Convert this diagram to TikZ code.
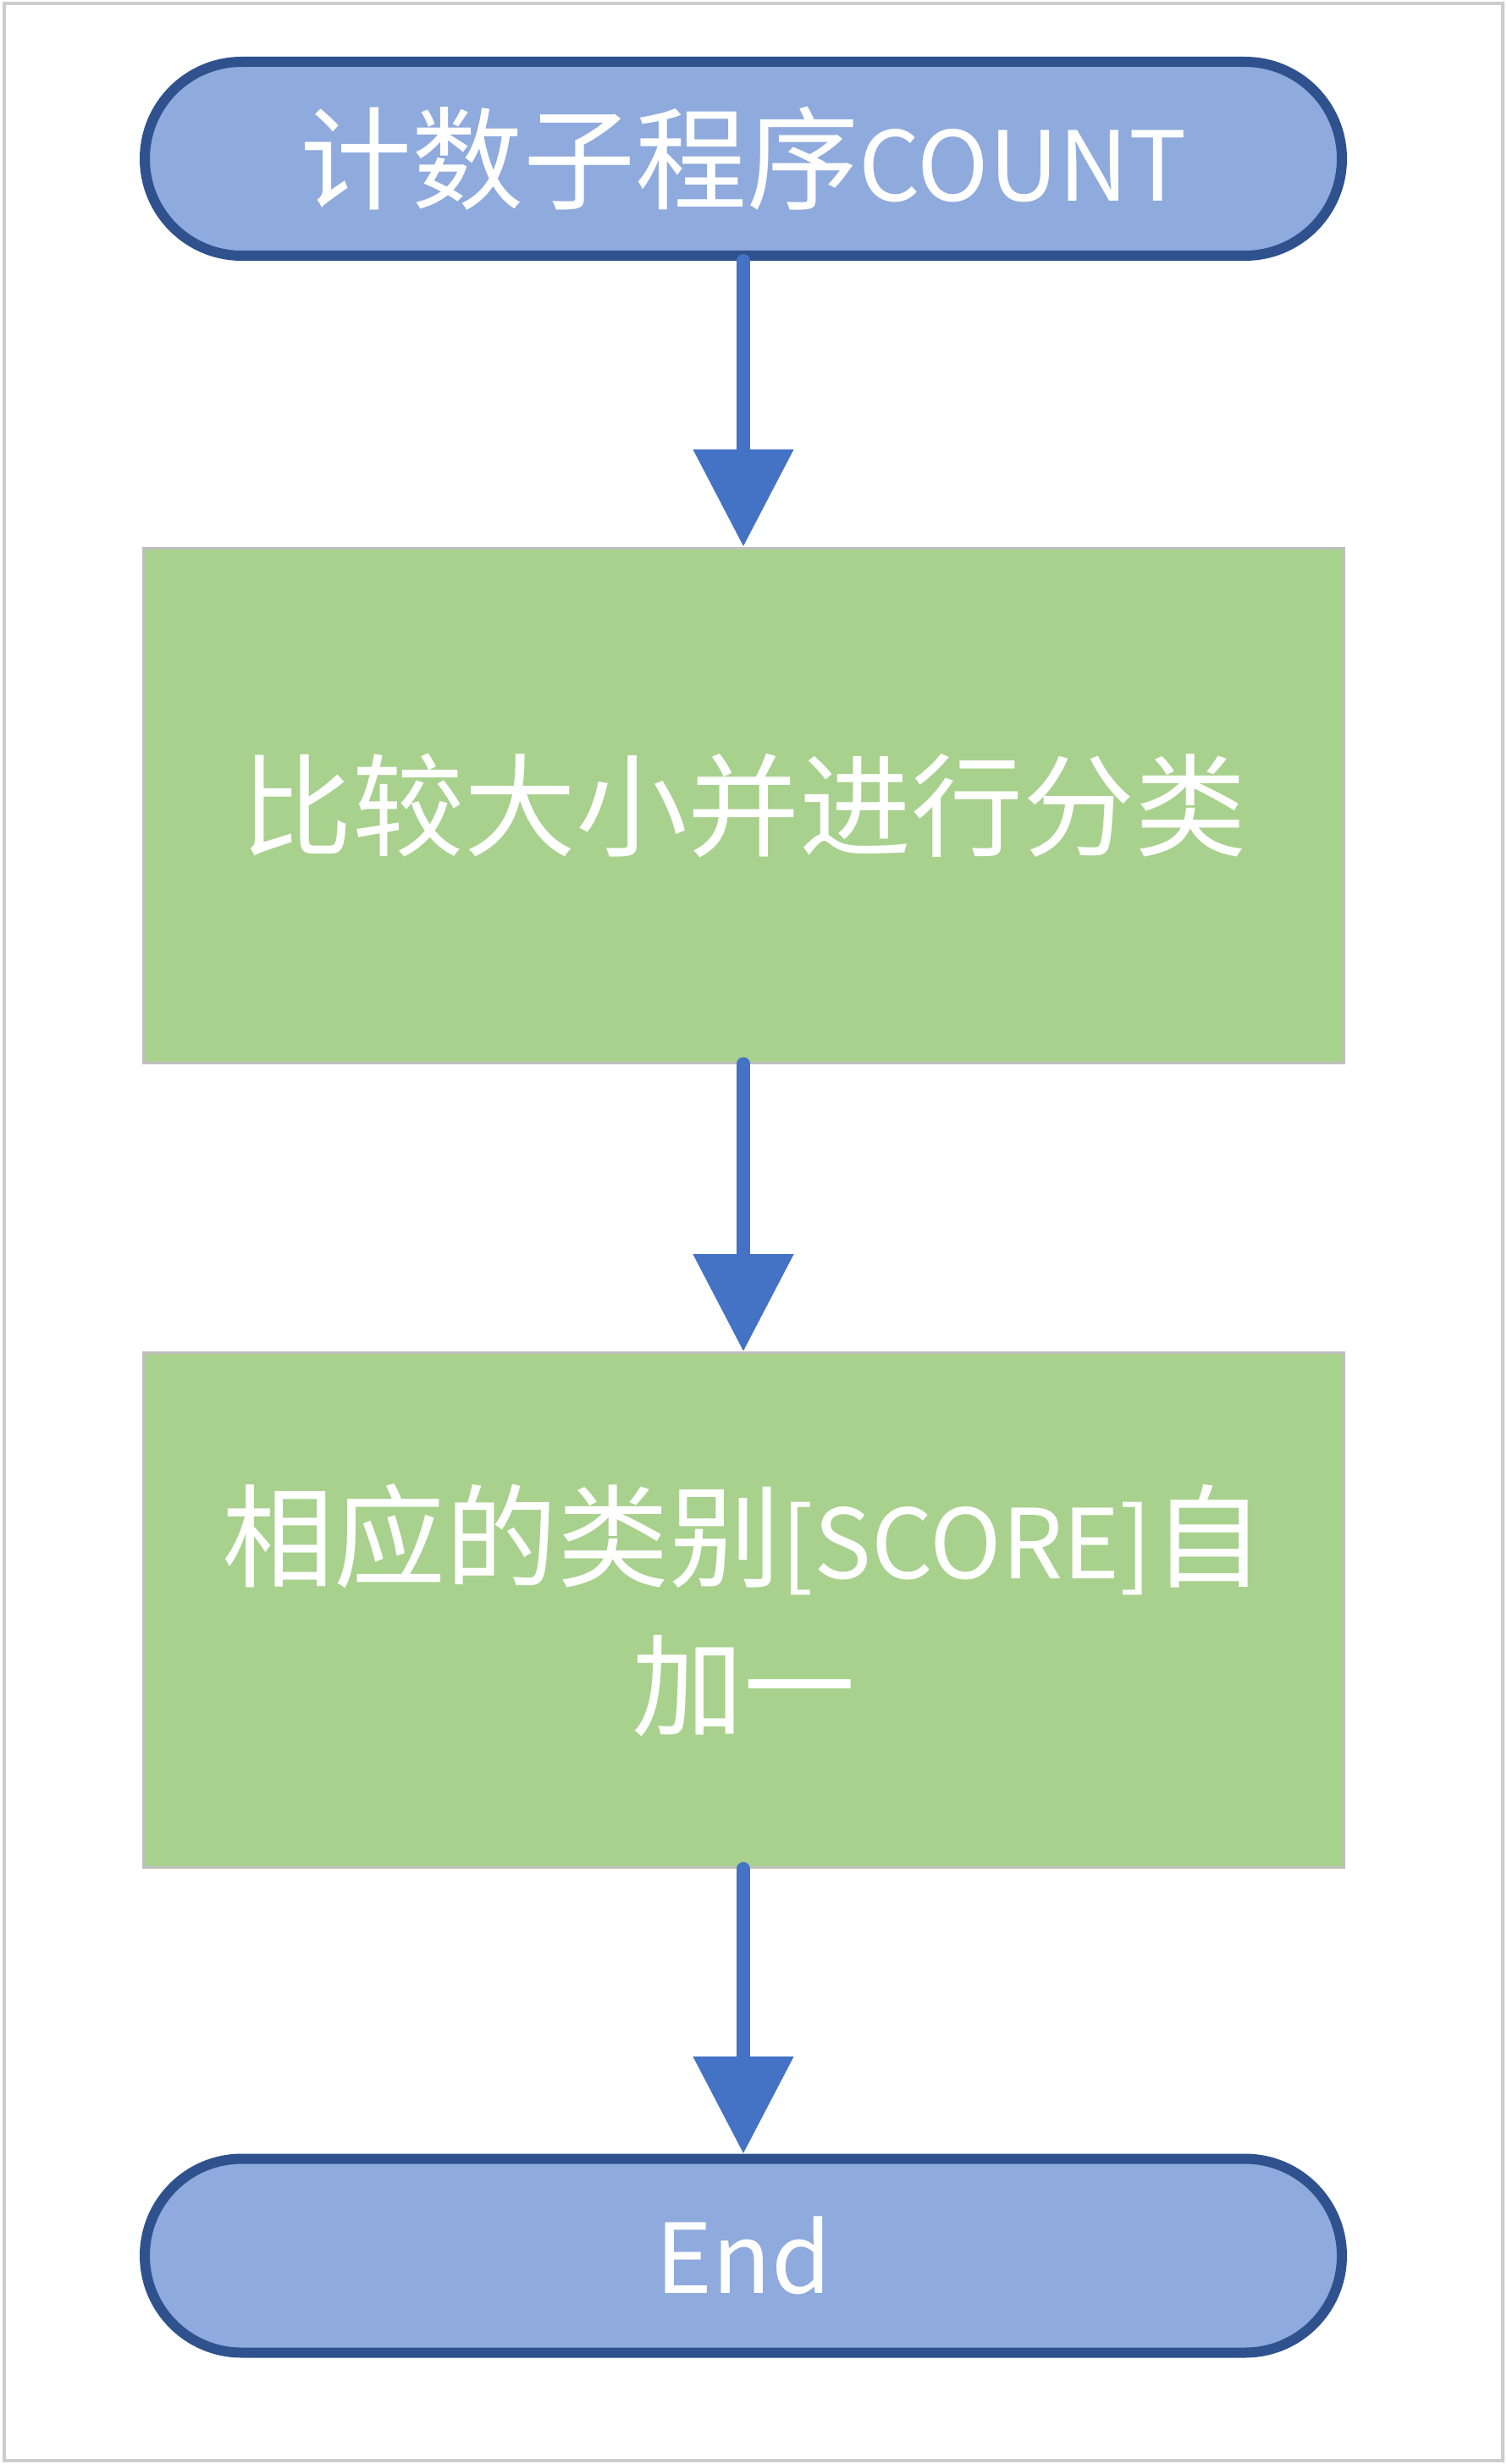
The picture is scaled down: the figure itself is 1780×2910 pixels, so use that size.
\documentclass[tikz,border=0pt]{standalone}
\usepackage{fontspec}
\setmainfont{Noto Sans CJK SC}
\usetikzlibrary{shapes.misc,arrows.meta}
\definecolor{termfill}{HTML}{8FAADC}
\definecolor{termline}{HTML}{2F528F}
\definecolor{procfill}{HTML}{A9D18E}
\definecolor{procline}{HTML}{BFBFBF}
\definecolor{flowline}{HTML}{4472C4}
\definecolor{frameline}{HTML}{CCCCCC}
% Latin runs are set a little smaller than the CJK text
\newcommand{\lat}[1]{{\fontsize{57}{88}\selectfont #1}}
\begin{document}
\begin{tikzpicture}[x=0.5pt,y=-0.5pt,
  terminal/.style={rounded rectangle, fill=termfill, draw=termline, line width=6pt,
    minimum width=707pt, minimum height=114.5pt, inner sep=0pt,
    text=white, font=\fontsize{66}{88}\selectfont},
  process/.style={rectangle, fill=procfill, draw=procline, line width=1.5pt,
    minimum width=709pt, minimum height=304pt, inner sep=0pt,
    text=white, align=center, font=\fontsize{66}{88}\selectfont},
  flow/.style={draw=flowline, line width=8pt, line cap=round,
    -{Triangle[width=57.5pt,length=57.5pt]}}]
  % page frame
  \useasboundingbox (0,0) rectangle (1780,2910);
  \draw[frameline, line width=1.8pt] (5,4) rectangle (1775,2906);
  % flowchart nodes
  \node[terminal] (start) at (878,187.5) {计数子程序\lat{COUNT}};
  \node[process]  (cmp)   at (878,951)   {比较大小并进行分类};
  \node[process]  (inc)   at (878,1901.5) {相应的类别\lat{[SCORE]}自\\加一};
  \node[terminal] (stop)  at (878,2664)  {\lat{End}};
  % connectors
  \draw[flow] (start.south) -- (cmp.north);
  \draw[flow] (cmp.south) -- (inc.north);
  \draw[flow] (inc.south) -- (stop.north);
\end{tikzpicture}
\end{document}
